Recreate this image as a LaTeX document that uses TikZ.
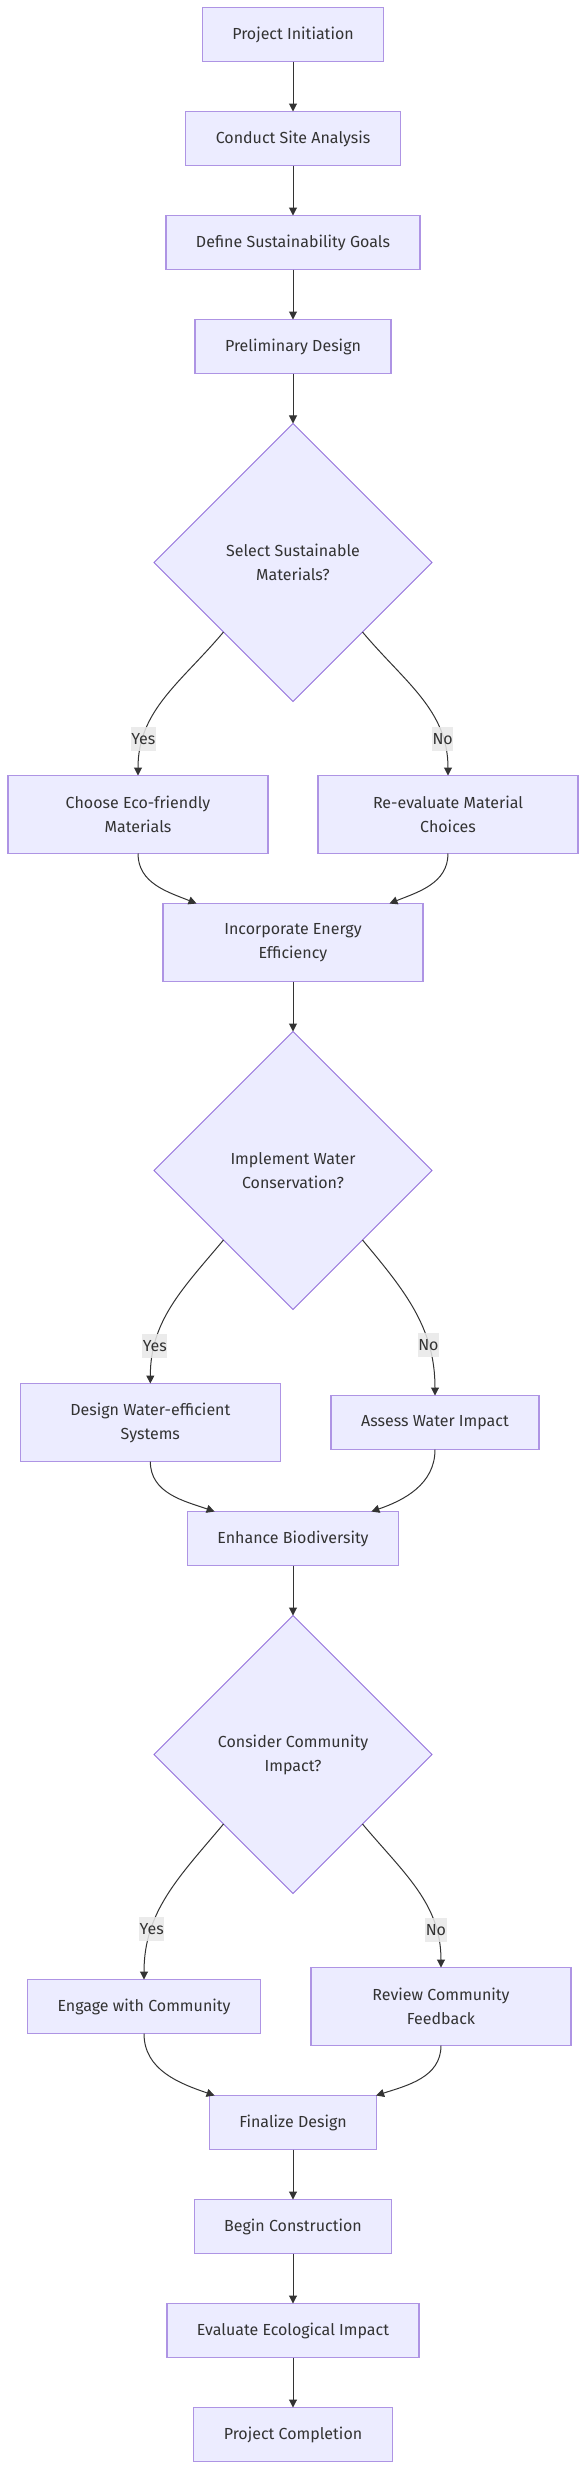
\documentclass[tikz,border=0pt]{standalone}
\usepackage{fontspec}
\setmainfont{Fira Sans}
\usetikzlibrary{positioning,shapes.geometric,arrows.meta}
\definecolor{boxfill}{HTML}{ECECFF}
\definecolor{boxline}{HTML}{9370DB}
\definecolor{edgeline}{HTML}{333333}
\definecolor{labelbg}{HTML}{E8E8E8}
\definecolor{txt}{HTML}{333333}

\begin{document}
\begin{tikzpicture}[x=0.75pt,y=-0.75pt,>={Triangle[length=6pt,width=6pt]},
    box/.style={draw=boxline!75,line width=1pt,fill=boxfill,text=txt,font=\fontsize{12}{18}\selectfont,minimum height=40.5pt,inner xsep=22.5pt,inner ysep=0pt,outer sep=0pt},
    box2/.style={box,align=center,minimum height=58.5pt,minimum width=195pt},
    decision/.style={diamond,aspect=1,draw=boxline,line width=0.6pt,fill=boxfill,text=txt,font=\fontsize{12}{18}\selectfont,align=center,minimum width=208.5pt,minimum height=208.5pt,inner sep=0pt,outer sep=0pt},
    flow/.style={->,draw=edgeline,line width=0.75pt},
    choice/.style={fill=labelbg,fill opacity=0.85,text opacity=1,text=txt,font=\fontsize{12}{18}\selectfont,inner xsep=0.5pt,inner ysep=0pt,minimum height=18pt}]
    \useasboundingbox (0,0) rectangle (586,2470);
    %
    \node[box] (init) at (293,34.5) {Project Initiation};
    \node[box, below=37.5pt of init] (site) {Conduct Site Analysis};
    \node[box, below=37.5pt of site] (goals) {Define Sustainability Goals};
    \node[box, below=37.5pt of goals] (prelim) {Preliminary Design};
    \node[decision, below=37.5pt of prelim] (materials) {Select Sustainable\\Materials?};
    \node[box2, below=55.5pt of materials, xshift=-116.25pt] (eco) {Choose Eco-friendly\\Materials};
    \node[box2, below=55.5pt of materials, xshift=116.25pt] (reeval) {Re-evaluate Material\\Choices};
    \node[box2, below=151.5pt of materials] (energy) {Incorporate Energy\\Efficiency};
    \node[decision, below=37.5pt of energy] (water) {Implement Water\\Conservation?};
    \node[box2, below=55.5pt of water, xshift=-107pt] (wsys) {Design Water-efficient\\Systems};
    \node[box, below=64.5pt of water, xshift=106.5pt] (wimpact) {Assess Water Impact};
    \node[box, below=151.5pt of water] (bio) {Enhance Biodiversity};
    \node[decision, below=37.5pt of bio] (community) {Consider Community\\Impact?};
    \node[box, below=64.5pt of community, xshift=-111.75pt] (engage) {Engage with Community};
    \node[box2, below=55.5pt of community, xshift=111pt] (feedback) {Review Community\\Feedback};
    \node[box, below=151.5pt of community] (final) {Finalize Design};
    \node[box, below=37.5pt of final] (build) {Begin Construction};
    \node[box, below=37.5pt of build] (eval) {Evaluate Ecological Impact};
    \node[box, below=37.5pt of eval] (done) {Project Completion};
    %
    \draw[flow] (init) -- (site);
    \draw[flow] (site) -- (goals);
    \draw[flow] (goals) -- (prelim);
    \draw[flow] (prelim) -- (materials);
    
    \draw[flow] (materials.south west) to[out=-130,in=90] node[choice,pos=0.79]{Yes} (eco);
    \draw[flow] (materials.south east) to[out=-50,in=90] node[choice,pos=0.79]{No} (reeval);
    \draw[flow] (eco) to[out=-90,in=158] (energy);
    \draw[flow] (reeval) to[out=-90,in=22] (energy);
    \draw[flow] (energy) -- (water);
    
    \draw[flow] (water.south west) to[out=-130,in=90] node[choice,pos=0.78]{Yes} (wsys);
    \draw[flow] (water.south east) to[out=-50,in=90] node[choice,pos=0.72]{No} (wimpact);
    \draw[flow] (wsys) to[out=-90,in=161] (bio);
    \draw[flow] (wimpact) to[out=-90,in=19] (bio);
    \draw[flow] (bio) -- (community);
    
    \draw[flow] (community.south west) to[out=-130,in=90] node[choice,pos=0.72]{Yes} (engage);
    \draw[flow] (community.south east) to[out=-50,in=90] node[choice,pos=0.78]{No} (feedback);
    \draw[flow] (engage) to[out=-90,in=161] (final);
    \draw[flow] (feedback) to[out=-90,in=18] (final);
    \draw[flow] (final) -- (build);
    \draw[flow] (build) -- (eval);
    \draw[flow] (eval) -- (done);
\end{tikzpicture}
\end{document}
